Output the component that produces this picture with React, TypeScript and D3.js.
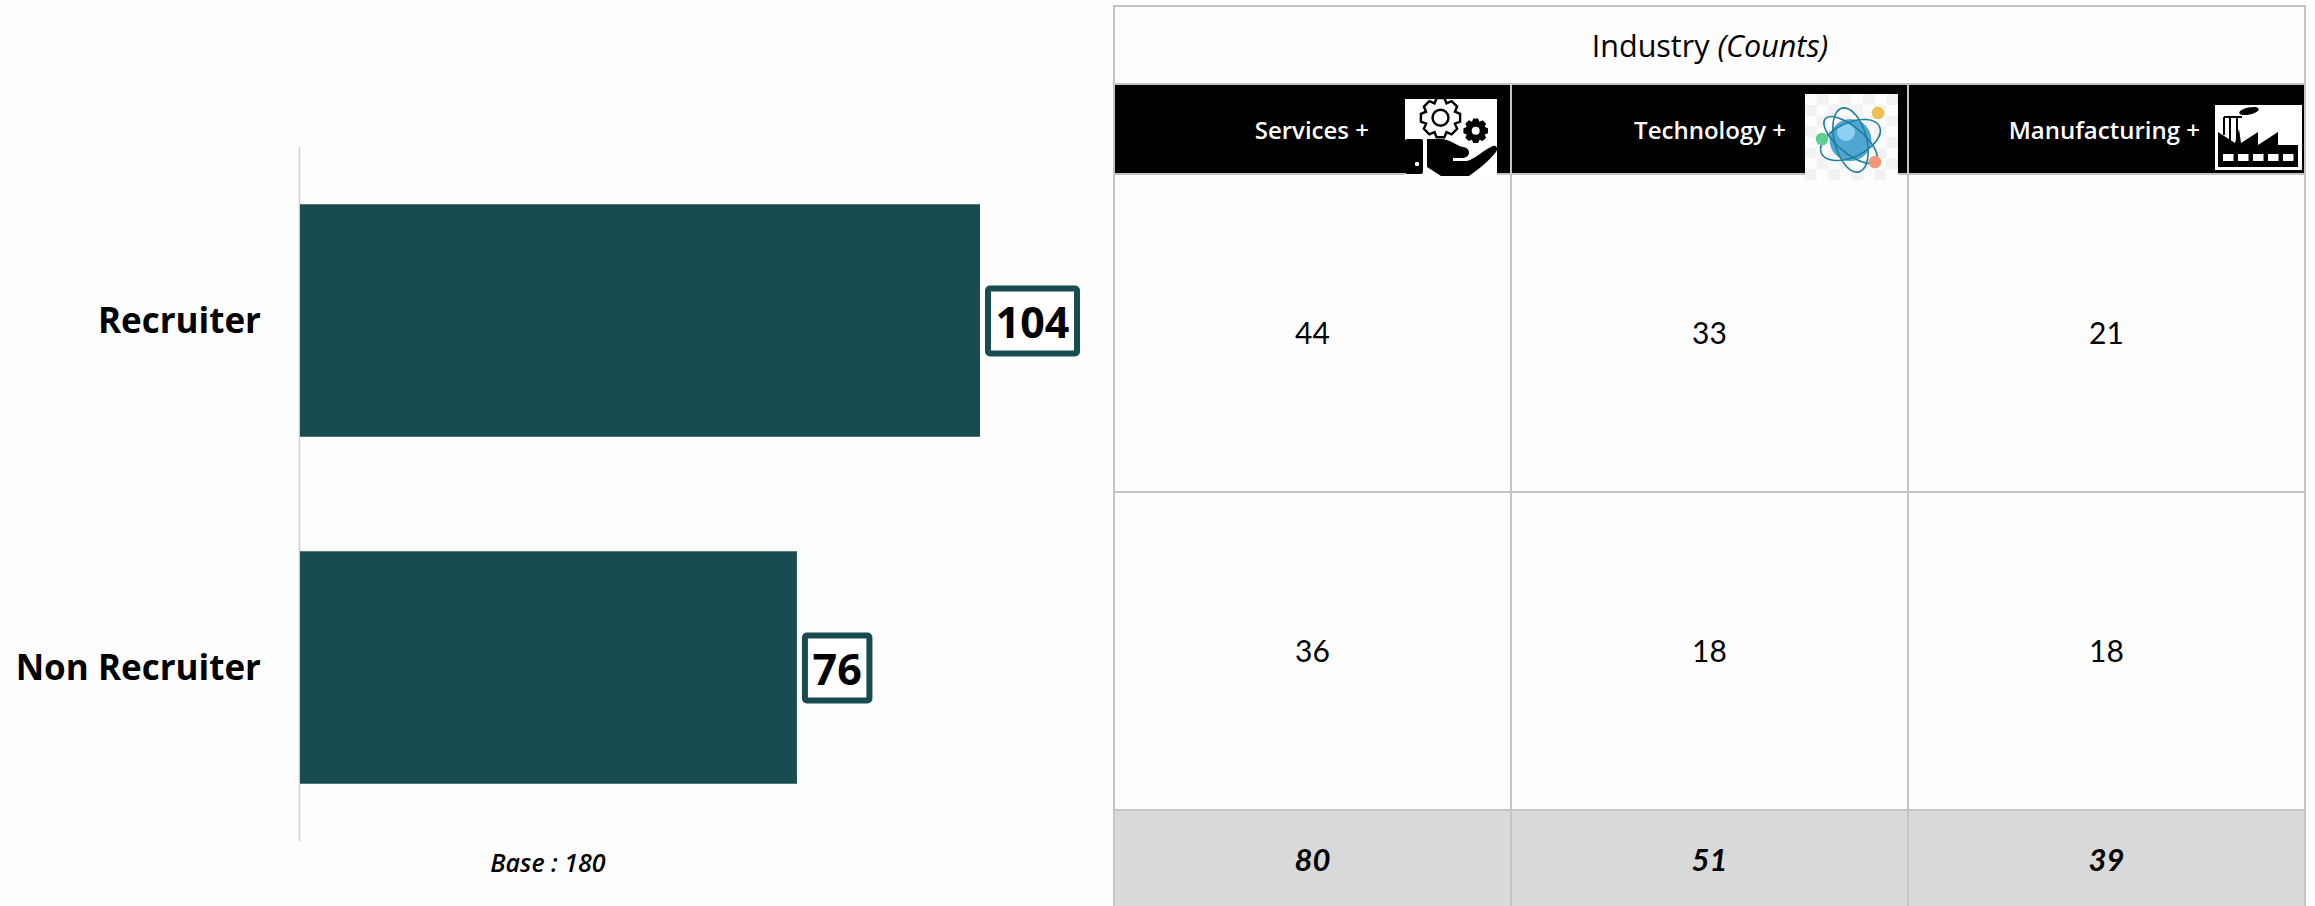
import React from 'react';
import * as d3 from 'd3';

const ROLES = ['Recruiter', 'Non Recruiter'];
const ROLE_COUNTS = [104, 76];
const BASE_LABEL = 'Base : 180';

const INDUSTRIES = ['Services', 'Technology', 'Manufacturing'];
const RECRUITER_ROW = [44, 33, 21];
const NON_RECRUITER_ROW = [36, 18, 18];
const TOTAL_ROW = [80, 51, 39];

const TEAL = '#184c51';
const GRID = '#c4c4c4';
const BG = '#fdfdfd';
const FONT = '"Open Sans", sans-serif';
const BODY_FONT = 'Lato, sans-serif';

const WIDTH = 2315;
const HEIGHT = 906;

const x = d3.scaleLinear().domain([0, 104]).range([300, 980]);
const y = d3.scaleBand().domain(ROLES).range([147, 841]).paddingInner(0.33).paddingOuter(0.165);

const colX = d3.scaleBand().domain(INDUSTRIES).range([1114, 2305]);
const ROW_EDGES = [6, 84, 174, 492, 810, 906];

// little gear path, outline of n teeth
const gearPath = (cx: number, cy: number, r: number, teeth: number) => {
  const pts: [number, number][] = [];
  for (let i = 0; i < teeth; i++) {
    const a = (i / teeth) * Math.PI * 2;
    const s = (Math.PI * 2) / teeth;
    [
      [-0.5, 0.78],
      [-0.25, 1],
      [0.25, 1],
      [0.5, 0.78],
    ].forEach(([k, m]) => {
      pts.push([cx + Math.cos(a + k * s) * r * m, cy + Math.sin(a + k * s) * r * m]);
    });
  }
  return d3.line()(pts) + 'Z';
};

const ServicesIcon = () => (
  <g transform="translate(1405,99)">
    <rect width={92} height={77} fill="#fff" />
    <clipPath id="svc">
      <rect width={92} height={77} />
    </clipPath>
    <g clipPath="url(#svc)">
      <path d={gearPath(35.5, 18.7, 20, 8)} fill="#fff" stroke="#000" strokeWidth={2.4} />
      <circle cx={35.5} cy={18.7} r={8} fill="#fff" stroke="#000" strokeWidth={2.4} />
      <path d={gearPath(70.7, 31.7, 12.5, 8)} fill="#000" />
      <circle cx={70.7} cy={31.7} r={4} fill="#fff" />
      <rect x={0} y={40} width={18} height={35} rx={2} fill="#000" />
      <circle cx={12} cy={65} r={2.2} fill="#fff" />
      <path
        d="M22,40 L38,40 C48,42 54,48 58,48 C66,49 66,58 58,59 L48,59 L48,62 L62,62 C70,60 80,50 88,47 C92,46 93,50 91,53 C84,62 74,70 64,77 L36,77 L22,68 Z"
        fill="#000"
      />
    </g>
  </g>
);

const TechnologyIcon = () => (
  <g transform="translate(1805,94)">
    <rect width={93} height={86} fill="#f2f2f2" />
    {d3.range(0, 8).flatMap((i) =>
      d3.range(0, 8).map((j) =>
        (i + j) % 2 === 0 ? <rect key={`${i}-${j}`} x={i * 11.6} y={j * 10.75} width={11.6} height={10.75} fill="#fdfdfd" /> : null
      )
    )}
    <circle cx={45.5} cy={46} r={21} fill="#4ea6d3" />
    <circle cx={41} cy={38} r={9} fill="#8ed0f2" />
    <g fill="none" stroke="#1f7f9c" strokeWidth={1.6}>
      <ellipse cx={45.5} cy={46} rx={32} ry={17} transform="rotate(-25 45.5 46)" />
      <ellipse cx={45.5} cy={46} rx={33} ry={13} transform="rotate(40 45.5 46)" />
      <ellipse cx={45.5} cy={46} rx={16} ry={33} transform="rotate(-15 45.5 46)" />
    </g>
    <circle cx={73} cy={19} r={6.3} fill="#eec04f" />
    <circle cx={17} cy={45} r={6.3} fill="#5fcf91" />
    <circle cx={70} cy={68} r={6.3} fill="#f5967a" />
  </g>
);

const ManufacturingIcon = () => (
  <g transform="translate(2215,105)">
    <rect width={87} height={65} fill="#fff" />
    <path d="M3,27 L20,38 L24,24 L26,38 L43,27 L43,40 L63,27 L63,40 L83,40 L83,62 L3,62 Z" fill="#000" />
    <path d="M9,12 L9,30 M15,12 L15,36 M22,12 L22,36 M9,12 L27,12" stroke="#000" strokeWidth={2} fill="none" />
    <ellipse cx={34} cy={6} rx={10} ry={3.5} fill="#000" transform="rotate(-12 34 6)" />
    {[8, 23, 38, 53, 68].map((wx) => (
      <rect key={wx} x={wx} y={49} width={10.5} height={7} fill="#fff" />
    ))}
  </g>
);

const ICONS = [<ServicesIcon key="s" />, <TechnologyIcon key="t" />, <ManufacturingIcon key="m" />];
const HEADER_TEXT_END = [1369, 1786, 2200];

const App: React.FC = () => {
  const bodyRows = [RECRUITER_ROW, NON_RECRUITER_ROW];
  return (
    <svg
      width={WIDTH}
      height={HEIGHT}
      viewBox={`0 0 ${WIDTH} ${HEIGHT}`}
      style={{ position: 'absolute', left: 0, top: 0, background: BG }}
    >
      {/* bar side */}
      <line x1={299.5} x2={299.5} y1={147} y2={841} stroke="#d0d0d0" strokeWidth={1.5} />
      {ROLES.map((role, i) => {
        const by = y(role) ?? 0;
        const cy = by + y.bandwidth() / 2;
        const boxW = String(ROLE_COUNTS[i]).length === 3 ? 89 : 64.5;
        const boxX = x(ROLE_COUNTS[i]) + 8;
        return (
          <g key={role}>
            <rect x={x(0)} y={by} width={x(ROLE_COUNTS[i]) - x(0)} height={y.bandwidth()} fill={TEAL} />
            <text x={261} y={cy} dy="0.36em" textAnchor="end" fontFamily={FONT} fontWeight={700} fontSize={35} fill="#000">
              {role}
            </text>
            <rect x={boxX} y={cy - 32} width={boxW} height={65} rx={2} fill="#fff" stroke={TEAL} strokeWidth={6} />
            <text x={boxX + boxW / 2} y={cy + 2} dy="0.36em" textAnchor="middle" fontFamily={FONT} fontWeight={700} fontSize={43} fill="#000">
              {ROLE_COUNTS[i]}
            </text>
          </g>
        );
      })}
      <text x={548} y={863} dy="0.36em" textAnchor="middle" fontFamily={FONT} fontStyle="italic" fontWeight={600} fontSize={25} fill="#000">
        {BASE_LABEL}
      </text>

      {/* table side */}
      <rect x={1114} y={ROW_EDGES[1]} width={1191} height={ROW_EDGES[2] - ROW_EDGES[1]} fill="#000" />
      <rect x={1114} y={ROW_EDGES[4]} width={1191} height={ROW_EDGES[5] - ROW_EDGES[4]} fill="#d9d9d9" />
      {ROW_EDGES.slice(0, 5).map((ry) => (
        <line key={ry} x1={1113} x2={2306} y1={ry} y2={ry} stroke={GRID} strokeWidth={2} />
      ))}
      {[1114, ...INDUSTRIES.map((d) => (colX(d) ?? 0) + colX.bandwidth())].map((lx) => (
        <line key={lx} x1={lx} x2={lx} y1={lx === 1114 || lx === 2305 ? 6 : ROW_EDGES[1]} y2={906} stroke={GRID} strokeWidth={2} />
      ))}
      {INDUSTRIES.map((ind, i) => (
        <g key={ind}>{ICONS[i]}</g>
      ))}
      <text x={1710} y={46} dy="0.36em" textAnchor="middle" fontFamily={FONT} fontWeight={500} fontSize={30.5} fill="#000">
        Industry <tspan fontStyle="italic">(Counts)</tspan>
      </text>
      {INDUSTRIES.map((ind, i) => {
        const cx = (colX(ind) ?? 0) + colX.bandwidth() / 2;
        return (
          <g key={ind}>
            <text x={HEADER_TEXT_END[i]} y={130} dy="0.36em" textAnchor="end" fontFamily={FONT} fontWeight={600} fontSize={24} fill="#fff">
              {ind} +
            </text>
            {bodyRows.map((row, r) => (
              <text
                key={r}
                x={cx}
                y={(ROW_EDGES[2 + r] + ROW_EDGES[3 + r]) / 2}
                dy="0.36em"
                textAnchor="middle"
                fontFamily={BODY_FONT}
                fontWeight={400}
                fontSize={30}
                fill="#000"
              >
                {row[i]}
              </text>
            ))}
            <text x={cx} y={860} dy="0.36em" textAnchor="middle" fontFamily={BODY_FONT} fontStyle="italic" fontWeight={700} fontSize={31} fill="#000">
              {TOTAL_ROW[i]}
            </text>
          </g>
        );
      })}
    </svg>
  );
};

export default App;
